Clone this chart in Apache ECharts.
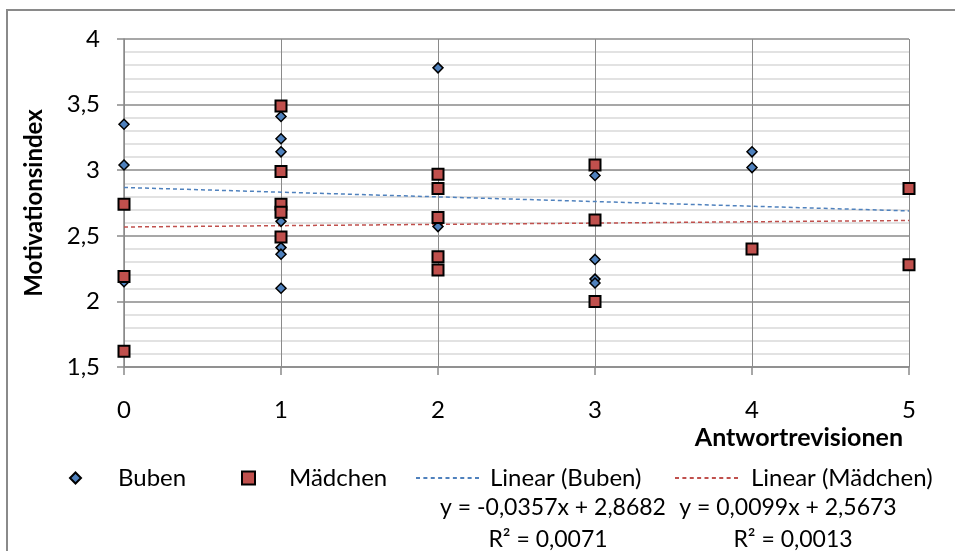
<!DOCTYPE html>
<html>
<head>
<meta charset="utf-8">
<script src="https://cdn.jsdelivr.net/npm/echarts@6/dist/echarts.min.js"></script>
<style>
  html, body { margin: 0; padding: 0; background: #fff; }
  #chart { width: 955px; height: 551px; }
</style>
</head>
<body>
<div id="chart"></div>
<script>
// Motivation index vs. number of answer revisions, split by gender
const bubenX = [0, 0, 0, 1, 1, 1, 1, 1, 1, 1, 2, 2, 3, 3, 3, 3, 4, 4];
const bubenY = [3.35, 3.04, 2.15, 3.41, 3.24, 3.14, 2.61, 2.41, 2.36, 2.10, 3.78, 2.57, 2.96, 2.32, 2.17, 2.14, 3.14, 3.02];
const maedchenX = [0, 0, 0, 1, 1, 1, 1, 1, 2, 2, 2, 2, 2, 3, 3, 3, 4, 5, 5];
const maedchenY = [2.74, 2.19, 1.62, 3.49, 2.99, 2.74, 2.68, 2.49, 2.97, 2.86, 2.64, 2.34, 2.24, 3.04, 2.62, 2.00, 2.40, 2.86, 2.28];

// Linear trend lines (slope, intercept) as reported in the equations below the legend
const trendNames = ['Linear (Buben)', 'Linear (Mädchen)'];
const trendSlope = [-0.0357, 0.0099];
const trendIntercept = [2.8682, 2.5673];
const trendEquations = ['y = -0,0357x + 2,8682', 'y = 0,0099x + 2,5673'];
const trendR2 = ['R² = 0,0071', 'R² = 0,0013'];

const xTicks = [0, 1, 2, 3, 4, 5];
const yTicks = [1.5, 2, 2.5, 3, 3.5, 4];

const FONT = 'Lato, "Open Sans", sans-serif';
const BLUE = '#4f81bd';
const RED = '#c0504d';
const GRID_DARK = '#8a8a8a';
const GRID_LIGHT = '#d9d9d9';

const pairs = (xs, ys) => xs.map((x, i) => [x, ys[i]]);
const trendLine = i => [
  [xTicks[0], trendIntercept[i] + trendSlope[i] * xTicks[0]],
  [xTicks[xTicks.length - 1], trendIntercept[i] + trendSlope[i] * xTicks[xTicks.length - 1]]
];
const commaFmt = v => String(v).replace('.', ',');

// Dashed-line legend icon: nine short dashes across a 63 x 2 box
let dashPath = 'path://';
for (let k = 0; k < 9; k++) {
  const x0 = (k * 7.375).toFixed(3);
  dashPath += `M${x0},0 h4 v2 h-4 Z `;
}

const legendText = { fontFamily: FONT, fontSize: 24, color: '#000' };
const LEGEND_TOP = 461;
const eqStyle = { fontFamily: FONT, fontSize: 23, fill: '#000', align: 'center', verticalAlign: 'middle' };

const chart = echarts.init(document.getElementById('chart'), null, { renderer: 'canvas' });
chart.setOption({
  animation: false,
  backgroundColor: '#fff',
  grid: { left: 124, right: 46, top: 39, bottom: 184, containLabel: false },
  xAxis: {
    type: 'value',
    min: xTicks[0],
    max: xTicks[xTicks.length - 1],
    interval: 1,
    axisLine: { show: true, onZero: false, lineStyle: { color: GRID_DARK, width: 1.5 } },
    axisTick: { show: true, inside: false, length: 8, lineStyle: { color: GRID_DARK, width: 1.5 } },
    axisLabel: { margin: 31, fontFamily: FONT, fontSize: 24, color: '#000', formatter: commaFmt },
    splitLine: { show: true, lineStyle: { color: GRID_DARK, width: 1 } }
  },
  yAxis: {
    type: 'value',
    min: yTicks[0],
    max: yTicks[yTicks.length - 1],
    interval: 0.5,
    name: 'Motivationsindex',
    nameLocation: 'middle',
    nameGap: 78,
    nameTextStyle: { fontFamily: FONT, fontSize: 24, fontWeight: 'bold', color: '#000' },
    axisLine: { show: true, onZero: false, lineStyle: { color: GRID_DARK, width: 1.5 } },
    axisTick: { show: true, inside: false, length: 7, lineStyle: { color: GRID_DARK, width: 1.5 } },
    axisLabel: { margin: 24, fontFamily: FONT, fontSize: 24, color: '#000', formatter: commaFmt },
    splitLine: { show: true, lineStyle: { color: GRID_DARK, width: 1.5 } },
    minorTick: { show: false, splitNumber: 5 },
    minorSplitLine: { show: true, lineStyle: { color: GRID_LIGHT, width: 1.5 } }
  },
  legend: [
    { data: ['Buben'], left: 64, top: LEGEND_TOP, itemWidth: 11, itemHeight: 11,
      textStyle: Object.assign({ padding: [0, 0, 0, 32] }, legendText) },
    { data: ['Mädchen'], left: 236, top: LEGEND_TOP, itemWidth: 13, itemHeight: 13,
      textStyle: Object.assign({ padding: [0, 0, 0, 29] }, legendText) },
    { data: [{ name: trendNames[0], icon: dashPath }], left: 411, top: LEGEND_TOP,
      itemWidth: 63, itemHeight: 2,
      textStyle: Object.assign({ padding: [0, 0, 0, 6] }, legendText) },
    { data: [{ name: trendNames[1], icon: dashPath }], left: 670, top: LEGEND_TOP,
      itemWidth: 63, itemHeight: 2,
      textStyle: Object.assign({ padding: [0, 0, 0, 8] }, legendText) }
  ],
  series: [
    {
      name: trendNames[0], type: 'line', data: trendLine(0), z: 1,
      symbol: 'none', showSymbol: false, silent: true,
      color: BLUE,
      lineStyle: { color: BLUE, width: 1.5, type: [4, 3] }
    },
    {
      name: trendNames[1], type: 'line', data: trendLine(1), z: 1,
      symbol: 'none', showSymbol: false, silent: true,
      color: RED,
      lineStyle: { color: RED, width: 1.5, type: [4, 3] }
    },
    {
      name: 'Buben', type: 'scatter', data: pairs(bubenX, bubenY), z: 3,
      symbol: 'diamond', symbolSize: 10,
      itemStyle: { color: BLUE, borderColor: '#000', borderWidth: 1.5, opacity: 1 }
    },
    {
      name: 'Mädchen', type: 'scatter', data: pairs(maedchenX, maedchenY), z: 4,
      symbol: 'rect', symbolSize: 11,
      itemStyle: { color: RED, borderColor: '#000', borderWidth: 2, opacity: 1 }
    }
  ],
  graphic: [
    {
      type: 'rect', silent: true, z: -1,
      shape: { x: 7, y: 10, width: 970, height: 570 },
      style: { fill: null, stroke: GRID_DARK, lineWidth: 2 }
    },
    {
      type: 'text', x: 903, y: 438, silent: true,
      style: { text: 'Antwortrevisionen', fontFamily: FONT, fontSize: 25, fontWeight: 'bold',
               fill: '#000', align: 'right', verticalAlign: 'middle' }
    },
    { type: 'text', x: 553, y: 508, silent: true, style: Object.assign({ text: trendEquations[0] }, eqStyle) },
    { type: 'text', x: 548, y: 540, silent: true, style: Object.assign({ text: trendR2[0] }, eqStyle) },
    { type: 'text', x: 788, y: 508, silent: true, style: Object.assign({ text: trendEquations[1] }, eqStyle) },
    { type: 'text', x: 793, y: 540, silent: true, style: Object.assign({ text: trendR2[1] }, eqStyle) }
  ]
});
</script>
</body>
</html>
